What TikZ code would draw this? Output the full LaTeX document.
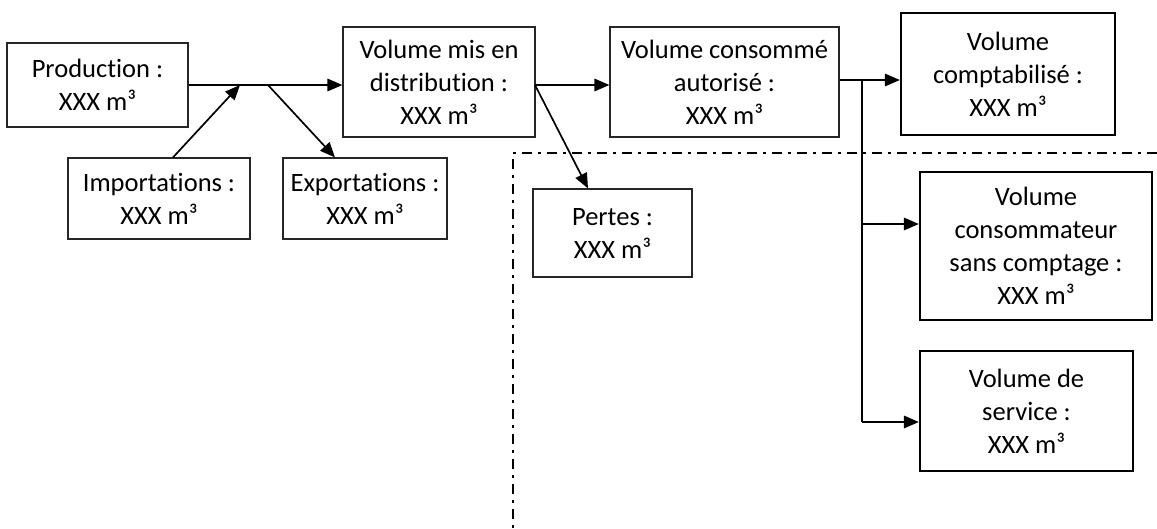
\documentclass[tikz,border=0pt]{standalone}
\usepackage{fontspec}
\setmainfont{Carlito}[Ligatures=NoCommon]
\usetikzlibrary{arrows.meta}
\begin{document}
\begin{tikzpicture}[x=1pt,y=-1pt,
  box/.style={draw=black!85, line width=1.2pt, rectangle, inner sep=0pt, align=center,
    font=\fontsize{26.5}{33}\selectfont},
  thickbox/.style={box, draw=black, line width=2.3pt},
  arr/.style={line width=1.7pt, -{Triangle[length=15pt,width=12.5pt]}},
  ln/.style={line width=1.7pt},
  dashdotline/.style={line width=1.9pt, dash pattern=on 10pt off 6pt on 3pt off 6pt}]
\useasboundingbox (0,0) rectangle (1157,528);
\node[box, minimum width=181pt, minimum height=84pt] (prod) at (97.5,85) {Production :\\XXX m³};
\node[box, minimum width=182pt, minimum height=81pt] (imp) at (159,198.5) {Importations :\\XXX m³};
\node[box, minimum width=164pt, minimum height=81pt] (exp) at (365,198.5) {Exportations :\\XXX m³};
\node[box, minimum width=192pt, minimum height=110pt] (volmis) at (439,82) {Volume mis en\\distribution :\\XXX m³};
\node[box, minimum width=229pt, minimum height=110pt] (volcons) at (724.5,82) {Volume consommé\\autorisé :\\XXX m³};
\node[box, minimum width=159pt, minimum height=88pt] (pertes) at (612.5,233) {Pertes :\\XXX m³};
\node[thickbox, minimum width=214pt, minimum height=122pt] (compta) at (1008,74) {Volume\\comptabilisé :\\XXX m³};
\node[thickbox, minimum width=232pt, minimum height=148pt] (conso) at (1036,246) {Volume\\consommateur\\sans comptage :\\XXX m³};
\node[thickbox, minimum width=213pt, minimum height=120pt] (serv) at (1026.5,411) {Volume de\\service :\\XXX m³};
% junctions
\coordinate (j1) at (240,85);
\coordinate (j1b) at (268,85);
\coordinate (j2) at (535,85);
\coordinate (j3) at (862,80);
\coordinate (j4) at (862,224);
\coordinate (j5) at (862,422);
\coordinate (d0) at (513,153);
\coordinate (d1) at (1157,153);
\coordinate (d2) at (513,528);
% connectors
\draw[arr] (prod.east |- j1) -- (j1 -| volmis.west);
\draw[arr] ([xshift=14pt]imp.north) -- (j1);
\draw[arr] (j1b) -- ([xshift=-30pt]exp.north);
\draw[arr] (j2) -- (j2 -| volcons.west);
\draw[arr] (j2) -- ([xshift=-24.5pt]pertes.north);
\draw[arr] (j3 -| volcons.east) -- (j3 -| compta.west);
\draw[ln] (j3) -- (j5);
\draw[arr] (j4) -- (j4 -| conso.west);
\draw[arr] (j5) -- (j5 -| serv.west);
% dash-dot boundary
\draw[dashdotline] (d1) -- (d0) -- (d2);
\end{tikzpicture}
\end{document}
